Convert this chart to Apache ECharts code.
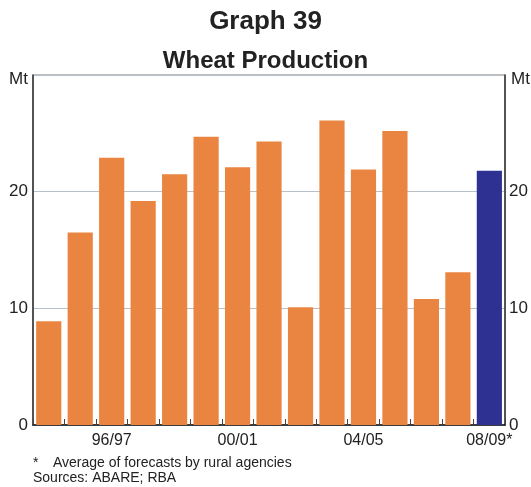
<!DOCTYPE html>
<html>
<head>
<meta charset="utf-8">
<script src="https://cdn.jsdelivr.net/npm/echarts@6/dist/echarts.min.js"></script>
<style>
  html, body { margin: 0; padding: 0; background: #fff; }
  #chart { width: 531px; height: 487px; }
</style>
</head>
<body>
<div id="chart"></div>
<script>
// Financial years (production season)
const seasons = ['94/95','95/96','96/97','97/98','98/99','99/00','00/01','01/02','02/03','03/04','04/05','05/06','06/07','07/08','08/09*'];
// Wheat production, Mt (final season is a forecast)
const production = [8.9, 16.5, 22.9, 19.2, 21.5, 24.7, 22.1, 24.3, 10.1, 26.1, 21.9, 25.2, 10.8, 13.1, null];
const forecast   = [null, null, null, null, null, null, null, null, null, null, null, null, null, null, 21.8];
// Value axis ticks
const yTicks = [0, 10, 20, 30];

const FONT = '"Liberation Sans", Arial, Helvetica, sans-serif';
const chart = echarts.init(document.getElementById('chart'), null, { renderer: 'canvas' });

const valueAxis = (pos) => ({
  type: 'value',
  position: pos,
  min: yTicks[0],
  max: yTicks[yTicks.length - 1],
  interval: yTicks[1] - yTicks[0],
  axisLine: { show: true, lineStyle: { color: '#3a3a3a', width: 1.6 } },
  axisTick: { show: false },
  splitLine: { show: pos === 'left', lineStyle: { color: '#b8c0c8', width: 1 } },
  axisLabel: {
    color: '#222', fontFamily: FONT, fontSize: 17, margin: pos === 'left' ? 5 : 4,
    formatter: v => (v === 30 ? '' : String(v))
  }
});

chart.setOption({
  animation: false,
  backgroundColor: '#ffffff',
  title: [
    { text: 'Graph 39', left: 'center', top: 4,
      textStyle: { fontFamily: FONT, fontSize: 26, fontWeight: 'bold', color: '#222' } },
    { text: 'Wheat Production', left: 'center', top: 44,
      textStyle: { fontFamily: FONT, fontSize: 24, fontWeight: 'bold', color: '#222' } }
  ],
  grid: {
    left: 33, right: 23, top: 75, bottom: 62,
    show: true, borderColor: '#7a7a7a', borderWidth: 1
  },
  xAxis: {
    type: 'category',
    data: seasons,
    boundaryGap: true,
    axisLine: { show: true, lineStyle: { color: '#111', width: 1.6 } },
    axisTick: { show: true, inside: true, length: 6, interval: 0, alignWithLabel: false,
                lineStyle: { color: '#444', width: 1 } },
    axisLabel: {
      interval: (i) => i % 4 === 2,
      color: '#222', fontFamily: FONT, fontSize: 16, margin: 8
    }
  },
  yAxis: [valueAxis('left'), valueAxis('right')],
  series: [
    { name: 'Production', type: 'bar', stack: 'wheat', data: production,
      barCategoryGap: '20%', itemStyle: { color: '#e98540' } },
    { name: 'Forecast', type: 'bar', stack: 'wheat', data: forecast,
      barCategoryGap: '20%', itemStyle: { color: '#2e3192' } }
  ],
  graphic: [
    { type: 'text', right: 503, top: 71,
      style: { text: 'Mt', fontFamily: FONT, fontSize: 17, fill: '#222' } },
    { type: 'text', left: 511, top: 71,
      style: { text: 'Mt', fontFamily: FONT, fontSize: 17, fill: '#222' } },
    { type: 'text', left: 33, top: 456,
      style: { text: '*', fontFamily: FONT, fontSize: 14, fill: '#222' } },
    { type: 'text', left: 53, top: 456,
      style: { text: 'Average of forecasts by rural agencies', fontFamily: FONT, fontSize: 14, fill: '#222' } },
    { type: 'text', left: 33, top: 471,
      style: { text: 'Sources: ABARE; RBA', fontFamily: FONT, fontSize: 14, fill: '#222' } }
  ]
});
</script>
</body>
</html>
